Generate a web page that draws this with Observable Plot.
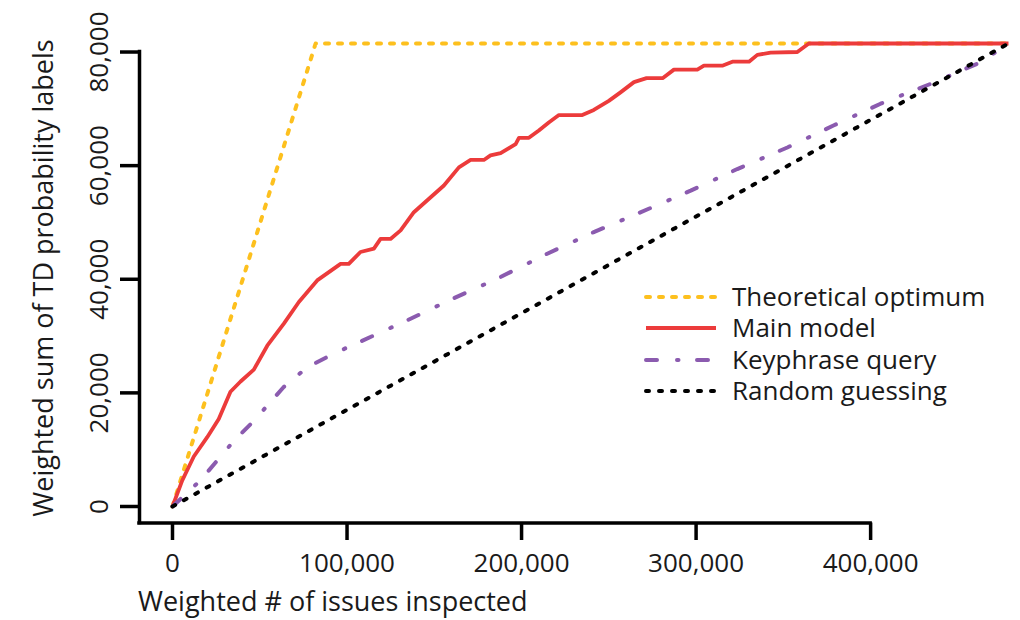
<!DOCTYPE html>
<html><head><meta charset="utf-8">
<script src="https://cdn.jsdelivr.net/npm/d3@7"></script>
<script src="https://cdn.jsdelivr.net/npm/@observablehq/plot@0.6"></script>
<style>
html,body{margin:0;padding:0;background:#fff;}
#chart{width:1020px;height:620px;}
</style></head><body><div id="chart"></div>
<script>
// ---- data ----
const xTicks = [0, 100000, 200000, 300000, 400000];
const yTicks = [0, 20000, 40000, 60000, 80000];
const xTitle = "Weighted # of issues inspected";
const yTitle = "Weighted sum of TD probability labels";
const seriesNames = ["Theoretical optimum", "Main model", "Keyphrase query", "Random guessing"];

const optX = [0, 82000, 479000];
const optY = [0, 81500, 81500];

const mainX = [0,5600,12200,19900,26500,33200,39000,46600,54300,63800,72400,82900,96300,101000,107700,115400,119200,124900,130700,138300,146000,155500,164100,170800,178400,182200,188000,196600,198500,204200,209900,215600,221400,234800,241400,250000,256700,264400,271600,280800,287300,300700,304500,315000,320800,330300,335100,342700,358000,364600,479000];
const mainY = [0,4600,8800,12200,15400,20200,22000,24100,28300,32200,36000,39800,42700,42700,44800,45400,47100,47100,48600,51800,53900,56500,59700,61000,61000,61800,62200,63800,64900,64900,66200,67600,68900,68900,69800,71400,72900,74700,75400,75400,76900,76900,77600,77600,78300,78300,79500,79900,80000,81500,81500];

const keyX = [0,16000,35000,46400,63600,77200,92300,132600,159300,188000,214700,241400,279700,296900,323600,352300,379000,405700,434400,463000,479000];
const keyY = [0,4600,11500,15000,21000,24500,26900,32500,36400,40400,44500,48300,53300,55600,59400,63200,67100,70900,74400,78200,81500];

const randX = [0, 479000];
const randY = [0, 81500];

// ---- styles ----
const colors = ["#FDC01E", "#EC3B3B", "#8B5BAF", "#000000"];
const dashes = ["4,9", null, "11,20,1.5,18.5", "3,10"];
const widths = [4, 3.8, 4, 4];

const rows = (xs, ys) => xs.map((x, i) => ({x, y: ys[i]}));
const seriesData = [rows(optX, optY), rows(mainX, mainY), rows(keyX, keyY), rows(randX, randY)];

const xMax = d3.max(optX), yMax = d3.max(optY);
const font = "'Open Sans', 'Noto Sans', sans-serif";
const ink = "#1a1a1a";

const chart = Plot.plot({
  width: 1020, height: 620,
  marginLeft: 172, marginRight: 12, marginTop: 43, marginBottom: 114,
  style: {fontFamily: font, fontSize: "26px", color: ink, background: "#fff", overflow: "visible"},
  x: {domain: [0, xMax], label: null},
  y: {domain: [0, yMax], label: null},
  marks: [
    Plot.ruleX([xTicks[0]], {x: d => d, y1: yTicks[yTicks.length - 1], y2: yTicks[0], dx: -33, insetBottom: -16.5, stroke: "#000", strokeWidth: 3.5, strokeLinecap: "square"}),
    Plot.ruleY([yTicks[0]], {y: d => d, x1: xTicks[0], x2: xTicks[xTicks.length - 1], dy: 16.5, insetLeft: -33, stroke: "#000", strokeWidth: 3.5, strokeLinecap: "square"}),
    Plot.axisY(yTicks, {anchor: "left", tickSize: 19, dx: -33, tickRotate: -90, tickPadding: 13, strokeWidth: 3.5, stroke: "#000", fontSize: 26, tickFormat: d3.format(","), label: null}),
    Plot.axisX(xTicks, {anchor: "bottom", tickSize: 17.5, dy: 16.5, tickPadding: 13, strokeWidth: 3.5, stroke: "#000", fontSize: 26, tickFormat: d3.format(","), label: null}),
    ...seriesData.map((d, i) => Plot.line(d, {
      x: "x", y: "y", stroke: colors[i], strokeWidth: widths[i],
      strokeDasharray: dashes[i], strokeLinecap: dashes[i] ? "round" : "butt", strokeLinejoin: "round"
    }))
  ]
});
document.getElementById("chart").appendChild(chart);

// ---- titles & legend (layout) ----
const svg = d3.select(chart);
svg.append("text").attr("x", 138).attr("y", 611).attr("text-anchor", "start")
  .attr("font-family", font).attr("font-size", 27).attr("fill", ink).text(xTitle);
svg.append("text").attr("transform", "translate(53,278) rotate(-90)").attr("text-anchor", "middle")
  .attr("font-family", font).attr("font-size", 27).attr("fill", ink).text(yTitle);

const lg = svg.append("g");
const legY = [297, 328, 360, 391];
seriesNames.forEach((name, i) => {
  lg.append("line").attr("x1", 646).attr("x2", 716).attr("y1", legY[i]).attr("y2", legY[i])
    .attr("stroke", colors[i]).attr("stroke-width", widths[i])
    .attr("stroke-dasharray", dashes[i]).attr("stroke-linecap", dashes[i] ? "round" : "butt");
  lg.append("text").attr("x", 732).attr("y", legY[i] + 9).attr("text-anchor", "start")
    .attr("font-family", font).attr("font-size", 26).attr("fill", ink).text(name);
});
</script></body></html>
